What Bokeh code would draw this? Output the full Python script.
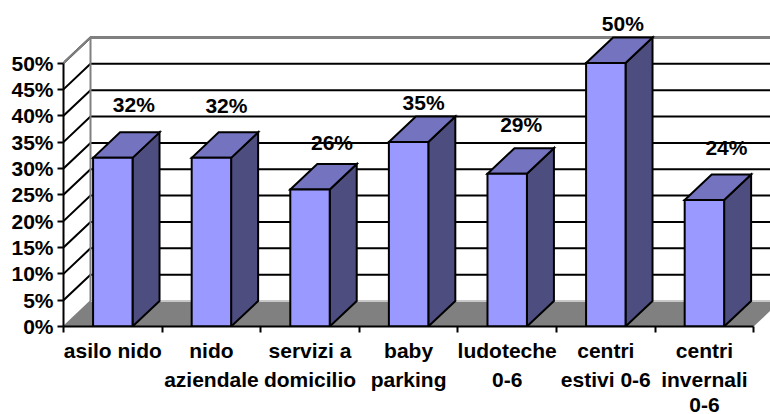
from bokeh.plotting import figure
from bokeh.models import Range1d, FixedTicker, ColumnDataSource, LinearAxis
from bokeh.core.properties import value
from bokeh.embed import file_html
from bokeh.resources import INLINE

categories = ["asilo nido", "nido\naziendale", "servizi a\ndomicilio", "baby\nparking",
              "ludoteche\n0-6", "centri\nestivi 0-6", "centri\ninvernali\n0-6"]
values = [32, 32, 26, 35, 29, 50, 24]
labels = ["32%", "32%", "26%", "35%", "29%", "50%", "24%"]
label_dx = [21, 15, 22, 15, 14, 17, 22]
label_dy = [-53, -52, -47, -40, -49, -40, -53]
y_ticks = [0, 5, 10, 15, 20, 25, 30, 35, 40, 45, 50]

W, H = 770, 414
LEFT, BOTTOM = 63, 88
UX = 98.6
UY = 5.27
DX = 27 / UX
DY = 25.5 / UY
BW = 0.4
FONT = "Liberation Sans"
FS = "21px"
n = len(categories)

p = figure(width=W, height=H, output_backend="svg", toolbar_location=None,
           x_range=Range1d(0, (W - LEFT) / UX), y_range=Range1d(0, (H - BOTTOM) / UY),
           min_border_left=LEFT, min_border_bottom=0, min_border_top=0, min_border_right=0,
           outline_line_color=None)
p.grid.visible = False

# floor
p.patch([0, DX, n + DX, n], [0, DY, DY, 0], fill_color="#808080", line_color=None)
p.line([DX, n + DX], [DY, DY], line_color="#c8c8c8", line_width=2)

# grid on side wall and back wall
grid = y_ticks[1:]
p.multi_line([[0, DX, n + DX] for _ in grid], [[v, v + DY, v + DY] for v in grid],
             line_color="black", line_width=2, line_join="miter")

# walls' edges
p.line([0, DX], [0, DY], line_color="#808080", line_width=1.5)
p.line([DX, DX], [DY, 50 + DY], line_color="#808080", line_width=2)
p.line([0, DX, n + DX], [50, 50 + DY, 50 + DY], line_color="#808080", line_width=2, line_join="miter")

# bars
for i, v in enumerate(values):
    l, r = i + 0.5 - BW / 2, i + 0.5 + BW / 2
    kw = dict(line_color="black", line_width=2, line_join="miter")
    p.patch([r, r + DX, r + DX, r], [0, DY, v + DY, v], fill_color="#4D4D80", **kw)
    p.patch([l, l + DX, r + DX, r], [v, v + DY, v + DY, v], fill_color="#7373BF", **kw)
    p.patch([l, r, r, l], [0, 0, v, v], fill_color="#9999FF", **kw)

src = ColumnDataSource(dict(x=[i + 0.5 for i in range(n)], y=values, t=labels,
                            dx=label_dx, dy=label_dy))
p.text("x", "y", text="t", source=src, x_offset="dx", y_offset="dy",
       text_font=value(FONT), text_font_style="bold", text_font_size=FS,
       text_color="black", text_align="center", text_baseline="middle")

ya = p.yaxis[0]
ya.ticker = FixedTicker(ticks=y_ticks)
ya.bounds = (0, 50)
ya.major_label_overrides = {v: f"{v}%" for v in y_ticks}
ya.major_label_text_font = FONT
ya.major_label_text_font_style = "bold"
ya.major_label_text_font_size = FS
ya.major_label_text_color = "black"
ya.major_label_standoff = 4
ya.major_tick_in = 0
ya.major_tick_out = 6
ya.major_tick_line_width = 2
ya.major_tick_line_color = "black"
ya.minor_tick_line_color = None
ya.axis_line_width = 2
ya.axis_line_color = "black"

xa = p.xaxis[0]
centers = [i + 0.5 for i in range(n)]
xa.ticker = FixedTicker(ticks=centers, minor_ticks=list(range(n + 1)))
xa.bounds = (0, n)
xa.major_label_overrides = {c: "\n".join(s.split("\n")[:2]) for c, s in zip(centers, categories)}
xa.major_label_text_font = FONT
xa.major_label_text_font_style = "bold"
xa.major_label_text_font_size = FS
xa.major_label_text_color = "black"
xa.major_label_text_line_height = 1.29
xa.major_label_standoff = 6
xa.major_tick_line_color = None
xa.minor_tick_in = 0
xa.minor_tick_out = 6
xa.minor_tick_line_width = 2
xa.minor_tick_line_color = "black"
xa.axis_line_width = 2
xa.axis_line_color = "black"

# third lines of the category labels: a second, line-less axis under the first
third = {c: s.split("\n")[2] for c, s in zip(centers, categories) if s.count("\n") >= 2}
xb = LinearAxis(ticker=FixedTicker(ticks=list(third)), major_label_overrides=third)
xb.major_label_text_font = FONT
xb.major_label_text_font_style = "bold"
xb.major_label_text_font_size = FS
xb.major_label_text_color = "black"
xb.major_label_standoff = -3
xb.axis_line_color = None
xb.major_tick_line_color = None
xb.minor_tick_line_color = None
p.add_layout(xb, "below")

open("out.html", "w").write(file_html(p, INLINE))
